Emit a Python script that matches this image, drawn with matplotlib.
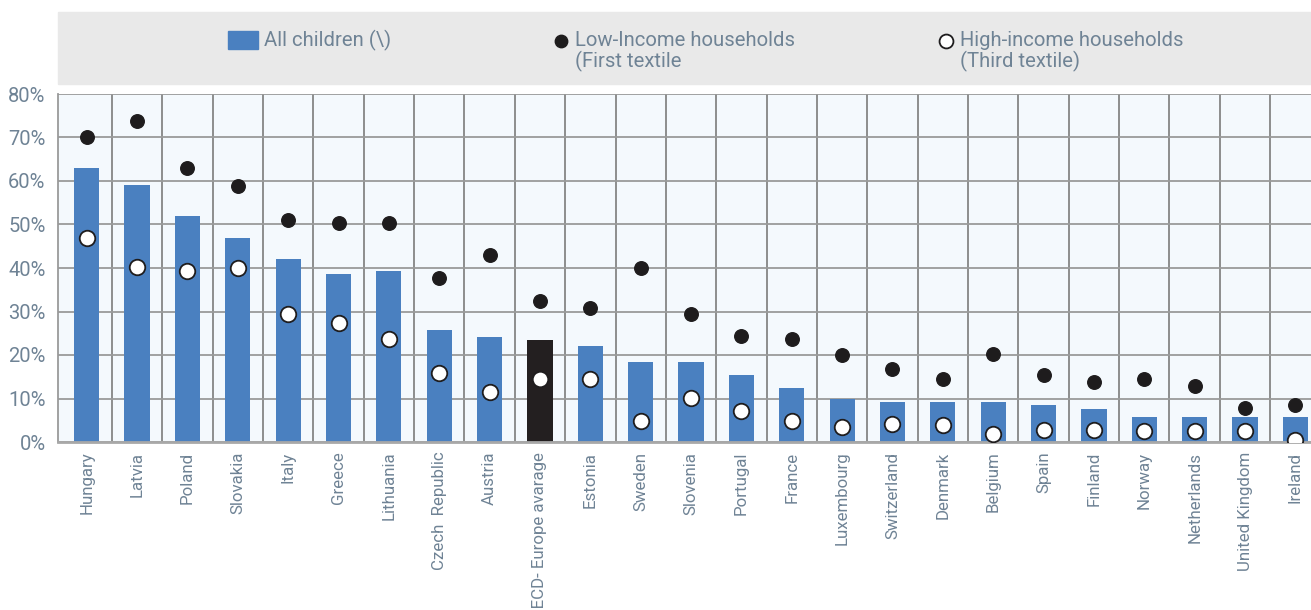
import matplotlib
matplotlib.use('Agg')
import matplotlib.pyplot as plt
from matplotlib.patches import Rectangle
import numpy as np

# data (percent)
countries = ["Hungary", "Latvia", "Poland", "Slovakia", "Italy", "Greece", "Lithuania",
             "Czech  Republic", "Austria", "OECD- Europe avarage", "Estonia", "Sweden",
             "Slovenia", "Portugal", "France", "Luxembourg", "Switzerland", "Denmark",
             "Belgium", "Spain", "Finland", "Norway", "Netherlands", "United Kingdom", "Ireland"]
allChildren = [63.1, 59.0, 51.9, 46.9, 42.1, 38.6, 39.3, 25.8, 24.2, 23.5, 22.1, 18.5,
               18.5, 15.3, 12.5, 10.0, 9.3, 9.3, 9.3, 8.6, 7.7, 5.7, 5.7, 5.7, 5.7]
lowIncome = [70.0, 73.7, 63.1, 58.9, 51.0, 50.4, 50.4, 37.8, 42.9, 32.5, 30.9, 40.0,
             29.5, 24.3, 23.7, 20.1, 16.8, 14.4, 20.2, 15.3, 13.8, 14.4, 12.9, 7.9, 8.6]
highIncome = [46.9, 40.2, 39.3, 39.9, 29.4, 27.3, 23.7, 15.9, 11.6, 14.4, 14.4, 4.9,
              10.2, 7.2, 4.9, 3.4, 4.1, 4.0, 1.8, 2.7, 2.7, 2.5, 2.5, 2.5, 0.5]
yticks = [0, 10, 20, 30, 40, 50, 60, 70, 80]
averageLabel = "OECD- Europe avarage"

blue = '#4a80c0'
dark = '#231f20'
txtColor = '#6f8395'

plt.rcParams['font.family'] = ['Roboto', 'DejaVu Sans']

fig = plt.figure(figsize=(13.11, 6.10), dpi=100)
ax = fig.add_axes([58 / 1311, 1 - 442 / 610, 1 - 58 / 1311, (442 - 94) / 610])
ax.set_facecolor('#f4f9fd')

x = np.arange(len(countries))
barColors = [dark if c == averageLabel else blue for c in countries]
ax.bar(x, allChildren, width=0.5, color=barColors, zorder=2)
ax.scatter(x, lowIncome, s=95, color='#1e1c1d', zorder=3)
ax.scatter(x, highIncome, s=125, facecolor='white', edgecolor='#1e1c1d', linewidth=1.3, zorder=4)

ax.set_xlim(-0.57, 24.31)
ax.set_ylim(0, 80)
ax.set_yticks(yticks)
ax.set_yticklabels(["%d%%" % v for v in yticks], color=txtColor, fontsize=14.5)
ax.set_xticks(x)
ax.set_xticklabels(countries, rotation=90, color=txtColor, fontsize=12.2)
ax.set_xticks(x[:-1] + 0.5, minor=True)
ax.tick_params(axis='both', which='both', length=0)
ax.tick_params(axis='y', pad=9)
ax.tick_params(axis='x', pad=7)

# grid
ax.grid(axis='y', which='major', color='#9a9a9a', linewidth=1.3, zorder=1)
ax.grid(axis='x', which='minor', color='#858585', linewidth=1.3, zorder=1)
ax.grid(axis='x', which='major', visible=False)
ax.set_axisbelow(True)
for s in ['top', 'right']:
    ax.spines[s].set_visible(False)
ax.spines['left'].set_color('#9a9a9a')
ax.spines['left'].set_linewidth(1.3)
ax.spines['bottom'].set_color('#a8a8a8')
ax.spines['bottom'].set_linewidth(2)

# legend band
fig.patches.append(Rectangle((58 / 1311, 1 - 84 / 610), 1 - 58 / 1311, 72 / 610,
                             transform=fig.transFigure, color='#e9e9e9', zorder=-1))
ly = 1 - 40 / 610
fig.patches.append(Rectangle((228 / 1311, 1 - 49 / 610), 30 / 1311, 18 / 610,
                             transform=fig.transFigure, color=blue, zorder=-0.5))
fig.text(264 / 1311, ly, "All children (\\)", color=txtColor, fontsize=14.6, va='center')
lax = fig.add_axes([0, 0, 1, 1], facecolor='none')
lax.set_zorder(2)
lax.set_xlim(0, 1311)
lax.set_ylim(610, 0)
lax.axis('off')
lax.scatter([561], [40.5], s=80, color='#1e1c1d')
lax.scatter([946], [40.5], s=100, facecolor='white', edgecolor='#1e1c1d', linewidth=1.3)
fig.text(575 / 1311, 1 - 31 / 610, "Low-Income households\n(First textile", color=txtColor,
         fontsize=14.6, va='top', linespacing=1.05)
fig.text(960 / 1311, 1 - 31 / 610, "High-income households\n(Third textile)", color=txtColor,
         fontsize=14.6, va='top', linespacing=1.05)

plt.savefig('out.png', dpi=100)
